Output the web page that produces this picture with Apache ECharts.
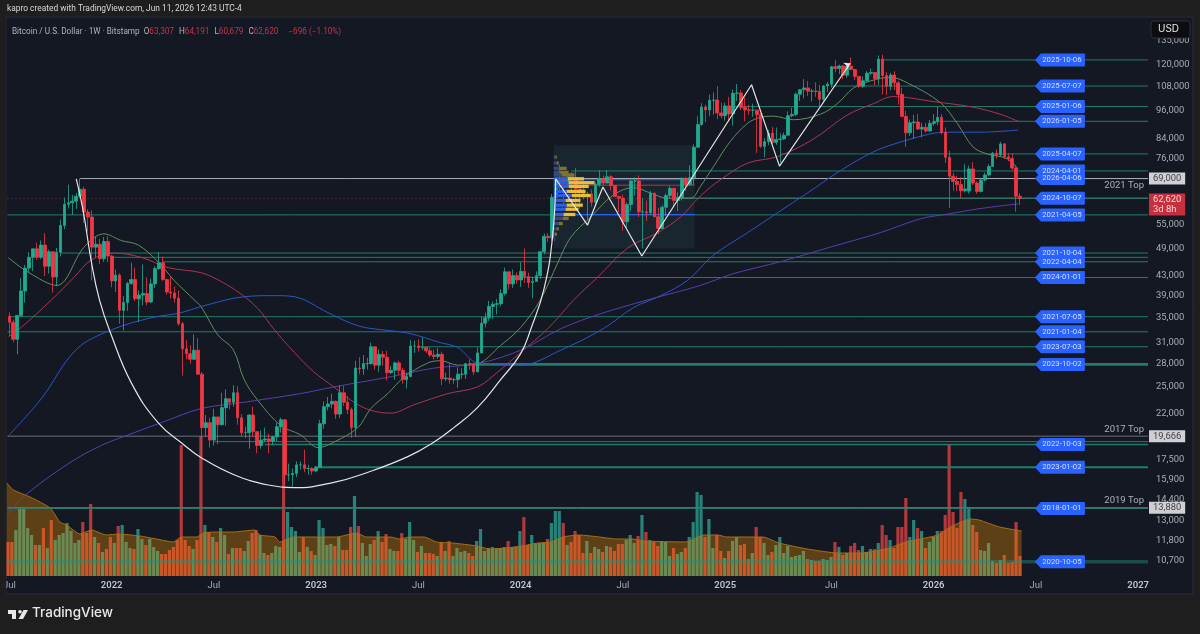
<!DOCTYPE html>
<html><head><meta charset="utf-8">
<style>html,body{margin:0;padding:0;background:#1e1e1e}#c{width:1200px;height:634px}</style>
<script src="https://cdn.jsdelivr.net/npm/echarts@6/dist/echarts.min.js"></script></head>
<body><div id="c"></div>
<script>
const weekCount = 290;
const tickDates = ['2021-07-05','2022-01-03','2022-07-04','2023-01-02','2023-07-03','2024-01-01','2024-07-01','2024-12-30','2025-07-07','2026-01-05','2026-07-06','2027-01-04'];
const tickLabels = ['Jul','2022','Jul','2023','Jul','2024','Jul','2025','Jul','2026','Jul','2027'];
const priceTicks = [135000,120000,108000,96000,84000,76000,55000,49000,43000,39000,35000,31000,28000,25000,22000,17500,15900,14400,13000,11800,10700];

const closes = [34250,31530,35400,39900,44600,47000,49000,47000,49900,45000,
48300,42700,48200,54900,60900,61300,61800,63300,65500,58600,
57200,49400,50100,46700,50800,47300,41900,43100,36300,37700,
41400,42200,38400,39100,39400,37800,41300,44500,45800,42200,
39700,39500,38500,34000,30100,29400,28600,29900,26600,20500,
21000,19300,21600,20800,22600,23600,23200,24300,21500,20000,
20000,21800,20100,18800,19300,19400,19200,19600,20600,21300,
16300,16300,16400,17100,17100,16800,16800,16600,16900,20900,
22700,23000,23300,21900,24300,23200,22400,20500,27400,27300,
28000,28000,30400,27800,29300,28900,26800,27100,28100,27100,
25900,26300,30500,30500,30300,30300,29800,29200,29000,29300,
26000,26100,25900,25900,26600,26600,28000,27900,26900,29500,
34100,35000,37000,37400,37500,39400,43800,41300,43000,42100,
43900,42800,41600,41800,43000,48300,52100,51700,63000,68400,
68400,67200,69600,69300,65600,64900,63400,64000,61500,67000,
69000,67500,69600,66700,63200,62700,55900,60800,68200,68200,
58700,58700,58400,64200,57300,54100,60000,63500,65800,62000,
62900,69000,67000,69300,80400,89800,97800,96400,101000,101200,
95000,93700,98300,94500,104500,104700,97600,96400,96300,96300,
94200,80700,82600,86100,82300,83500,83700,85200,93700,94300,
104100,106400,107300,105600,105700,105500,101500,108300,109200,119000,
117900,119400,114200,119300,117400,113500,108200,111100,115300,115700,
112200,123500,114000,108200,114300,110000,104000,93400,86200,90600,
90900,87800,88600,87000,90300,91000,93000,86400,76500,69800,
68000,67000,65000,65600,72300,67500,64800,68500,70200,73200,
78100,77400,81700,76700,76100,72600,63316,62620];
const opens = [35280,34250,31530,35400,39900,44600,47000,49000,47000,49900,
45000,48300,42700,48200,54900,60900,61300,61800,63300,65500,
58600,57200,49400,50100,46700,50800,47300,41900,43100,36300,
37700,41400,42200,38400,39100,39400,37800,41300,44500,45800,
42200,39700,39500,38500,34000,30100,29400,28600,29900,26600,
20500,21000,19300,21600,20800,22600,23600,23200,24300,21500,
20000,20000,21800,20100,18800,19300,19400,19200,19600,20600,
21300,16300,16300,16400,17100,17100,16800,16800,16600,16900,
20900,22700,23000,23300,21900,24300,23200,22400,20500,27400,
27300,28000,28000,30400,27800,29300,28900,26800,27100,28100,
27100,25900,26300,30500,30500,30300,30300,29800,29200,29000,
29300,26000,26100,25900,25900,26600,26600,28000,27900,26900,
29500,34100,35000,37000,37400,37500,39400,43800,41300,43000,
42100,43900,42800,41600,41800,43000,48300,52100,51700,63000,
68400,68400,67200,69600,69300,65600,64900,63400,64000,61500,
67000,69000,67500,69600,66700,63200,62700,55900,60800,68200,
68200,58700,58700,58400,64200,57300,54100,60000,63500,65800,
62000,62900,69000,67000,69300,80400,89800,97800,96400,101000,
101200,95000,93700,98300,94500,104500,104700,97600,96400,96300,
96300,94200,80700,82600,86100,82300,83500,83700,85200,93700,
94300,104100,106400,107300,105600,105700,105500,101500,108300,109200,
119000,117900,119400,114200,119300,117400,113500,108200,111100,115300,
115700,112200,123500,114000,108200,114300,110000,104000,93400,86200,
90600,90900,87800,88600,87000,90300,91000,93000,86400,76500,
69800,68000,67000,65000,64900,72300,67500,64800,68500,70200,
73200,78100,77400,81700,76700,76100,72600,63307];
const highs = [35950,34700,35500,42500,45300,48200,49000,50500,51000,52900,
48800,48300,49200,56500,62900,67000,63700,64300,69000,66300,
59400,59100,51900,51400,51900,52100,47600,44300,43500,38900,
41700,45800,44700,40000,45400,42600,42400,45000,48200,47200,
41500,42900,40800,40000,34300,31400,30600,32300,31700,26900,
21800,21500,22500,21000,24300,24700,23500,25200,25100,21900,
20600,21900,22700,19900,20200,20500,19900,19700,21000,21500,
21000,17200,16800,17400,17400,18400,17100,16900,17000,21300,
23300,23800,24200,23400,25200,25100,23900,22600,28400,28900,
29200,28800,31000,30500,30000,29800,29800,27700,28300,28400,
27400,26800,31400,31300,31500,31800,30400,30300,30000,30200,
29700,26800,28100,26100,27500,27400,28100,28600,28000,30300,
35200,35900,38000,37900,38400,40200,44700,43400,44300,43700,
45900,49100,43600,42800,43900,48500,52800,52900,64000,69200,
73800,68700,71500,71300,72700,66800,67200,64700,65400,67700,
71900,70000,71900,70100,66900,63400,63800,61400,68400,69400,
70000,62700,62000,65000,64500,59800,60600,64100,66500,66000,
64500,69500,69500,73600,81500,93500,99600,98900,103900,105000,
108300,99900,99900,102700,106400,109400,106300,102500,98800,99400,
96500,95000,84000,87400,88700,88500,86000,86400,95700,97400,
104900,106700,112000,111000,106800,110300,108900,108800,110500,119400,
123000,120200,120000,119400,124500,117600,113700,113400,116500,117900,
113600,125700,126200,115900,115500,116400,111000,107400,96000,92000,
94100,94600,90600,90400,91800,94500,97900,94500,88500,79000,
71000,70000,69500,74000,73500,74700,68000,69000,71000,74000,
78500,79500,82500,82000,78000,78000,73500,64191];
const lows = [32080,31050,29300,35200,37700,43800,43950,46400,46600,42900,
43400,39600,40800,47200,53900,59600,57800,59500,62800,55600,
53300,42000,47000,45500,46000,45900,40600,39700,34000,32900,
36200,41100,38000,34300,37200,37200,37600,40500,44200,41900,
39200,38500,37700,33700,26400,28600,28000,29300,26600,17600,
19600,18600,18800,18900,20700,20700,22400,22700,20800,19600,
19500,18500,19600,18100,18500,19100,18100,18900,19200,20000,
15500,15800,15400,16100,16700,16500,16300,16300,16500,17000,
20400,22300,22500,21400,21500,22800,21900,19500,19600,26600,
26500,27200,27900,27200,26900,27700,25800,26600,25900,26500,
25400,24800,26200,29500,29700,29900,29500,28900,28600,28700,
25200,25700,25400,25400,24900,26000,26000,27200,26500,26900,
29500,33400,34500,34800,35600,37000,39000,40200,40500,41300,
40700,41500,40500,38500,41800,42300,47700,50600,50900,59000,
64500,60800,66500,64500,60800,59600,62300,56500,60200,60800,
66300,66700,67600,65100,63300,58500,53500,54300,59000,63500,
57200,49100,56100,57800,57100,52600,54600,57500,62700,59900,
58900,62000,65000,66800,66800,80000,89300,90800,93500,94200,
92100,92600,91500,91200,89300,100700,96300,91200,94100,93300,
78200,80100,76600,81200,81700,81300,74500,83200,85200,92900,
93500,100700,102000,103100,100400,102700,98200,99600,105100,107500,
115800,114700,112000,112700,117000,111700,107400,107300,110700,114400,
108700,109000,104000,103600,106100,106300,98900,93000,80600,85000,
83800,87500,84400,86400,86700,89300,89500,85500,74500,59800,
65000,64900,62700,64500,64200,66800,64000,64500,68000,69800,
73000,76000,77000,76000,75000,72000,58700,60679];
const volumes = [34,34,46,69,69,48,41,31,31,48,28,56,36,41,43,53,45,33,36,54,43,72,39,33,24,27,39,33,50,51,
34,28,27,47,37,31,37,29,25,22,22,26,29,36,131,36,30,27,36,140,51,44,39,34,48,41,22,28,28,28,
25,35,43,46,41,23,21,23,30,29,150,64,49,45,24,39,29,25,21,56,48,31,32,30,39,26,26,49,80,50,
33,20,32,36,45,34,42,27,25,25,43,37,54,36,24,30,23,23,22,20,33,25,35,20,28,24,25,23,20,35,
47,25,28,29,28,28,29,35,29,29,45,59,31,41,33,33,33,37,53,65,65,53,31,34,45,41,23,35,23,29,
27,24,30,29,25,32,32,36,41,33,40,61,44,36,34,30,35,34,20,28,22,24,28,39,54,84,81,39,57,28,
41,25,18,25,35,39,31,32,17,23,49,39,33,21,24,31,39,23,30,19,20,21,25,17,16,15,15,17,16,19,
34,29,21,23,30,33,26,30,24,27,27,33,51,41,36,28,49,49,78,39,56,48,45,28,34,39,45,45,61,132,
64,48,84,77,69,51,44,26,25,33,15,13,16,21,13,14,54,20];

const volMaWeeks = [-0.3,1.4,5.6,10.7,13.2,14.9,18.3,21.2,25,28,33.5,37.7,42,44,47.9,49.6,53,57.2,62.7,64,67.8,69,72.4,78.3,83.4,88.5,91,97,99.5,102,105.7,108.8,112.9,119.1,122.3,126.4,130.5,134.7,137.8,140.9,145,150.2,154.4,158.5,161.6,172,176.7,180.3,182.4,191.7,195.8,203,210.8,216.5,223.8,228,236.2,239.3,244.5,246.6,251.8,257.4];
const volMaValues = [93,86,79,68,54,51,42,46,41,42,40,37,34,39,39,43,44,44,46,41,39,34,39,39,39,43,39,39,37,39,39,34,33,30,27,28,30,33,34,39,41,39,37,37,35,34,41,41,39,39,33,27,23,23,28,34,41,49,57,56,49,45];

const greenWeeks = [-0.25,5,12,19,24,28.5,32.8,37.8,41.9,47,48.8,53,56.9,59.7,63.2,69,74,78.5,82.5,88.6,91.9,96.2,100.3,106.4,109.7,114,119,124.9,130,135,139.4,142.7,147.8,153.6,158.7,163,167.3,173.2,175.7,179,183.3,187.7,191,194.3,199.3,206.2,210.5,214.6,218.9,224,228.3,236.7,241,245,248.6,253.7,256.5];
const greenPrices = [46900,43600,41000,49400,52700,51000,49900,46000,42000,38200,36900,32200,30000,25900,23400,20700,19800,18600,19100,20500,22500,24200,26200,28100,28400,27800,28000,30600,33400,38200,45700,51800,57200,63700,66000,64300,62700,62700,66400,73100,82700,90300,93000,93500,91900,94400,99400,107200,111000,113000,110000,99900,90300,80500,77800,76000,72300];
const redWeeks = [-0.25,3,10.7,16.5,20.8,26.7,33.5,40.4,48.8,53.8,58.9,63.2,67.3,72.4,77.4,82.5,87.6,91.9,97,102.8,111.5,119,124.2,130,136.9,143.5,149.6,157.2,164.8,170.6,175.7,180.8,187.7,195.3,204.4,213,219.7,224.7,234.9,245,251.9,256.5];
const redPrices = [31900,33400,38200,42700,46400,48000,47000,44700,43600,41800,39300,36600,33100,29600,26900,25000,23200,22300,22000,22900,24200,25000,26900,29600,33200,38200,42700,49200,53000,57200,63400,68600,74400,76800,83600,94000,99400,102900,100400,97700,94400,91200];
const blueWeeks = [-0.25,8.1,17,25.9,36,43.7,48.8,59.7,67.3,72.4,81,86.8,91.2,101.3,109.7,114,119,122.4,130,140.2,151,158.7,165.6,172.4,179,187.7,195.3,202.9,211.3,219.7,225.7,234,238.4,246.8,256.5];
const bluePrices = [19700,23600,30000,33000,35000,35900,37000,38800,39000,38800,35900,34100,33300,32500,31000,30300,28100,28000,27800,29900,33200,36800,39000,42000,47500,53000,58400,64300,71700,78600,82000,85700,86500,86500,87400];
const purpleWeeks = [-0.25,3.8,15,23.4,31.7,38.6,48.8,59.7,74,82.5,96.2,107.9,119,130,140.2,150.3,162.3,175.7,184,196,208.7,221.4,231.6,238.4,246.8,256.5];
const purplePrices = [13500,14700,17200,18800,20000,21000,22500,23200,24200,25000,26200,27400,28000,29900,33200,35700,38200,41000,43400,46000,49400,53000,56700,58000,59600,61000];

const arcWeeks = [17,18.8,20.8,22.9,25.9,31,37.8,44.2,48.8,57.1,65.8,72.4,82.5,91.2,101.3,107.9,113,119,124.9,130,132.6,135.9,138.1,138.9];
const arcPrices = [68900,58700,46200,38200,32200,25500,21000,18900,17700,16300,15500,15300,15700,16500,17800,19100,20500,22600,25900,29400,33200,40200,51900,68900];
const zigWeeks = [138.9,147,150.9,160.8,188.7,195.8,213.8];
const zigPrices = [68900,55000,66200,47300,109000,73300,121000];

const levelDates = ['2021-04-05','2021-01-04','2021-07-05','2021-10-04','2022-01-03','2022-04-04','2022-07-04','2022-10-03','2023-01-02','2023-07-03','2023-10-02','2024-01-01','2024-04-01','2024-10-07','2025-01-06','2025-04-07','2025-07-07','2025-10-06','2026-01-05','2026-04-06','2018-01-01','2020-10-05'];
const levelPrices = [57800,32700,35200,48000,47000,46000,19150,18880,16900,30400,27900,42600,71600,62700,98000,77800,108300,123000,91200,69000,13830,10670];
const levelWidths = [1,1,1,1,1,1,1,1.5,2,1,2.6,1,1,1.5,1,1,1,1,1,1,1,3.5];
const taggedDates = ['2025-10-06','2025-07-07','2025-01-06','2026-01-05','2025-04-07','2024-04-01','2026-04-06','2024-10-07','2021-04-05','2021-10-04','2022-04-04','2024-01-01','2021-07-05','2021-01-04','2023-07-03','2023-10-02','2022-10-03','2023-01-02','2018-01-01','2020-10-05'];

const topNames = ['2021 Top','2017 Top','2019 Top'];
const topPrices = [69000,19666,13880];
const topStartWeeks = [18,-0.5,-0.5];

const profilePrices = [76600,74400,72500,71100,70200,68900,67600,66400,64800,63500,62000,60600,59400,57900,56800,55400,54000,52600,51300];
const profileBuy = [0.5,0.8,1.5,1.5,2,3.6,3.8,3.8,3.3,4.6,3,3.3,3,2.5,2.3,1.3,0.8,0.3,0.4];
const profileSell = [0.3,0.5,1.8,2.3,3.3,4.1,6.6,5.1,4.8,4.8,3.8,4.1,3.3,3,1.5,1,0.5,0.5,0];
const valueAreaHigh = 69500, valueAreaLow = 57200;
const boxWeeks = [138.4,174.2];
const boxPrices = [81200,49100];
const boxLinePrices = [68600,66800,57900];
const boxLineColors = ['#2962ff','#b2354a','#2962ff'];

const lastPrice = 62620;

const start = Date.UTC(2021,6,5);
const categories = [];
for (let i=0;i<weekCount;i++) categories.push(new Date(start+i*7*864e5).toISOString().slice(0,10));
const xEnd = weekCount-0.5, xStart=-0.5;
const UP='#1fab90', DOWN='#f23645';
const pairs=(a,b)=>a.map((v,i)=>[v,b[i]]);
const ovl={xAxisIndex:1,yAxisIndex:0,animation:false,silent:true};
const maLine=(name,w,p,color)=>({...ovl,type:'line',name,data:pairs(w,p),smooth:0.35,symbol:'none',lineStyle:{color,width:1},z:6});

const levelSeries = levelDates.map((d,k)=>({...ovl,type:'line',name:d,symbol:'none',z:4,
  data:[[Math.max(xStart,categories.indexOf(d)),levelPrices[k]],[xEnd,levelPrices[k]]],
  lineStyle:{color:levelWidths[k]>=3?'rgba(38,140,120,0.45)':'#1f7d6a',width:levelWidths[k]}}));
const topSeries = topPrices.map((p,k)=>({...ovl,type:'line',name:topNames[k],symbol:'none',z:5,
  data:[[topStartWeeks[k],p],[xEnd,p]],lineStyle:{color:k===0?'#a9adb8':'#6d707a',width:1}}));
const boxLines = boxLinePrices.map((p,k)=>({...ovl,type:'line',symbol:'none',z:5,
  data:[[boxWeeks[0],p],[boxWeeks[1],p]],lineStyle:{color:boxLineColors[k],width:1}}));

const option={
  backgroundColor:'#1e1e1e',animation:false,
  title:[
   {left:7,top:5,padding:0,text:'kapro created with TradingView.com, Jun 11, 2026 12:43 UTC-4',textStyle:{color:'#d8d8d8',fontSize:8.4,fontWeight:'normal',fontFamily:'Roboto'}},
   {left:12,top:23,padding:0,text:'{a|Bitcoin / U.S. Dollar · 1W · Bitstamp  O}{r|63,307} {a|H}{r|64,191} {a|L}{r|60,679} {a|C}{r|62,620}  {r|−696 (−1.10%)}',
    textStyle:{fontWeight:'normal',rich:{a:{color:'#aeb2bd',fontSize:8.2,fontWeight:'normal',fontFamily:'Roboto'},r:{color:'#c93349',fontSize:8.2,fontWeight:'normal',fontFamily:'Roboto'}}}}
  ],
  grid:[{left:6,right:52,top:17,bottom:58},{left:6,right:52,top:417,bottom:58}],
  xAxis:[
   {type:'category',gridIndex:0,data:categories,boundaryGap:true,axisLine:{show:false},axisTick:{show:false},splitLine:{show:false},
    axisLabel:{margin:5,interval:(i,v)=>tickDates.includes(v),hideOverlap:false,showMinLabel:true,
      formatter:v=>{const l=tickLabels[tickDates.indexOf(v)];return /^\d/.test(l)?'{y|'+l+'}':'{m|'+l+'}';},
      rich:{y:{color:'#c3c6cf',fontSize:9.5,fontWeight:600,fontFamily:'Roboto'},m:{color:'#a7aab4',fontSize:9.5,fontFamily:'Roboto'}}}},
   {type:'value',gridIndex:0,min:xStart,max:weekCount-0.5,show:false,splitLine:{show:false}},
   {type:'category',gridIndex:1,data:categories,boundaryGap:true,show:false},
   {type:'value',gridIndex:1,min:xStart,max:weekCount-0.5,show:false,splitLine:{show:false}}
  ],
  yAxis:[
   {type:'log',logBase:10,gridIndex:0,min:9950,max:151600,position:'right',axisLine:{show:false},axisTick:{show:false},splitLine:{show:false},minorTick:{show:false},minorSplitLine:{show:false},
    axisLabel:{customValues:priceTicks,margin:8,color:'#a9acb6',fontSize:9.4,fontFamily:'Roboto',align:'left',
      formatter:v=>{const raw=v<100?Math.pow(10,v):v;return priceTicks.reduce((a,b)=>Math.abs(b-raw)<Math.abs(a-raw)?b:a).toLocaleString('en-US');}}},
   {type:'value',gridIndex:1,min:0,max:159,show:false,splitLine:{show:false}}
  ],
  graphic:[
   {type:'rect',z:-1,shape:{x:6,y:17,width:1187,height:577},style:{fill:'#141823',stroke:'#2a2d36',lineWidth:1}},
   {type:'rect',z:100,shape:{x:0,y:0,width:6,height:634},style:{fill:'#1e1e1e'}},
   {type:'rect',z:100,shape:{x:1151,y:21,width:39,height:17,r:3},style:{fill:'#0c0d10',stroke:'#2e3038',lineWidth:1}},
   {type:'text',z:101,style:{x:1158,y:24,text:'USD',fill:'#e8e8e8',fontSize:10,fontFamily:'Inter'}},
   {type:'polygon',z:100,shape:{points:[[8,610],[16,610],[16,619],[12,619],[12,614],[8,614]]},style:{fill:'#e8e8e8'}},
   {type:'polygon',z:100,shape:{points:[[23.5,610],[28,610],[23,619],[18.5,619]]},style:{fill:'#e8e8e8'}},
   {type:'circle',z:100,shape:{cx:20,cy:611.8,r:1.8},style:{fill:'#e8e8e8'}},
   {type:'text',z:100,style:{x:32,y:606,text:'TradingView',fill:'#e8e8e8',fontSize:13.5,fontWeight:500,fontFamily:'Inter'}}
  ],
  series:[
   {...ovl,type:'custom',z:1,data:[[boxWeeks[0],boxPrices[0],boxWeeks[1],boxPrices[1]]],encode:{x:[0,2],y:[1,3]},
    renderItem:(p,api)=>{const a=api.coord([api.value(0),api.value(1)]),b=api.coord([api.value(2),api.value(3)]);
      return {type:'rect',shape:{x:a[0],y:a[1],width:b[0]-a[0],height:b[1]-a[1]},style:{fill:'#19252f'}};}},
   {type:'bar',name:'Volume',xAxisIndex:2,yAxisIndex:1,barWidth:3.2,silent:true,z:2,
    data:volumes.map((v,i)=>({value:v,itemStyle:{color:closes[i]>=opens[i]?'rgba(44,176,160,0.7)':'rgba(246,70,70,0.7)'}}))},
   {type:'line',name:'Volume MA',xAxisIndex:3,yAxisIndex:1,data:pairs(volMaWeeks,volMaValues),smooth:0.2,symbol:'none',silent:true,z:3,
    lineStyle:{color:'#a86e14',width:1},areaStyle:{color:'rgba(255,152,0,0.45)',origin:'start'}},
   ...levelSeries,...topSeries,...boxLines,
   maLine('MA green',greenWeeks,greenPrices,'#5f8f62'),
   maLine('MA red',redWeeks,redPrices,'#ad3550'),
   maLine('MA blue',blueWeeks,bluePrices,'#2c55c8'),
   maLine('MA purple',purpleWeeks,purplePrices,'#5a3fa8'),
   {type:'candlestick',name:'BTCUSD',xAxisIndex:0,yAxisIndex:0,barWidth:3.2,silent:true,z:7,
    data:closes.map((c,i)=>[opens[i],c,lows[i],highs[i]]),
    itemStyle:{color:UP,color0:DOWN,borderColor:UP,borderColor0:DOWN,borderWidth:0.8}},
   {...ovl,type:'custom',z:8,data:profilePrices.map((p,i)=>[boxWeeks[0],p,profileBuy[i],profileSell[i]]),encode:{x:0,y:1},
    renderItem:(prm,api)=>{const x=api.value(0),p=api.value(1),b=api.value(2),s=api.value(3);
      const a=api.coord([x,p]),m=api.coord([x+b,p]),e=api.coord([x+b+s,p]);const inside=p<=valueAreaHigh&&p>=valueAreaLow;
      return {type:'group',children:[
        {type:'rect',shape:{x:a[0],y:a[1]-1.7,width:m[0]-a[0],height:3.3},style:{fill:inside?'#2a5ee8':'#39487a'}},
        {type:'rect',shape:{x:m[0],y:a[1]-1.7,width:e[0]-m[0],height:3.3},style:{fill:inside?'#e8bf3a':'#7f7230'}}]};}},
   {...ovl,type:'line',name:'Arc',data:pairs(arcWeeks,arcPrices),smooth:0.45,symbol:'none',z:9,lineStyle:{color:'#e6e6e6',width:1.2}},
   {...ovl,type:'line',name:'Zigzag',z:9,symbol:'none',showSymbol:true,lineStyle:{color:'#e6e6e6',width:1.2},
    data:zigWeeks.map((w,i)=>i===zigWeeks.length-1?{value:[w,zigPrices[i]],symbol:'arrow',symbolSize:6,symbolRotate:-60,itemStyle:{color:'#e6e6e6'}}:[w,zigPrices[i]])},
   {...ovl,type:'line',name:'Last',symbol:'none',z:5,data:[[xStart,lastPrice],[xEnd,lastPrice]],lineStyle:{color:'#a33344',width:0.8,type:[1,3]}},
   {...ovl,type:'scatter',name:'Tags',z:12,clip:false,symbol:'path://M0 7 L6 0 L49 0 Q50 0 50 1 L50 13 Q50 14 49 14 L6 14 Z',symbolSize:[50,13],itemStyle:{color:'#2962ff',opacity:1},
    data:taggedDates.map(d=>({name:d,value:[267.1,levelPrices[levelDates.indexOf(d)]]})),
    label:{show:true,position:'inside',offset:[2,0],formatter:p=>p.name,color:'#d5defa',fontSize:7.8,fontFamily:'Roboto'}},
   {...ovl,type:'scatter',name:'TopNames',z:12,clip:false,symbolSize:0,data:topPrices.map((p,k)=>({name:topNames[k],value:[xEnd,p]})),
    label:{show:true,position:'left',distance:4,formatter:p=>p.name,color:'#d1d4dc',fontSize:9.5,fontFamily:'Roboto'},
    labelLayout:(prm)=>({dy:prm.dataIndex===0?7:-7})},
   {...ovl,type:'scatter',name:'PriceTags',z:13,clip:false,symbolSize:0,data:topPrices.map(p=>[xEnd,p]),
    label:{show:true,position:'right',distance:1,formatter:p=>p.value[1].toLocaleString('en-US'),color:'#131722',backgroundColor:'#ffffff',padding:[1.5,4,1.5,4],fontSize:9.4,fontFamily:'Roboto'}},
   {...ovl,type:'scatter',name:'LastTag',z:13,clip:false,symbolSize:0,data:[[xEnd,lastPrice]],
    label:{show:true,position:'right',distance:1,formatter:p=>p.value[1].toLocaleString('en-US')+'\n3d 8h',color:'#ffffff',backgroundColor:'#f23645',lineHeight:10,padding:[1,4,1,4],fontSize:9.4,fontFamily:'Roboto'},
    labelLayout:()=>({dy:6})}
  ]
};
const chart=echarts.init(document.getElementById('c'),null,{renderer:'canvas'});
chart.setOption(option);
</script></body></html>
